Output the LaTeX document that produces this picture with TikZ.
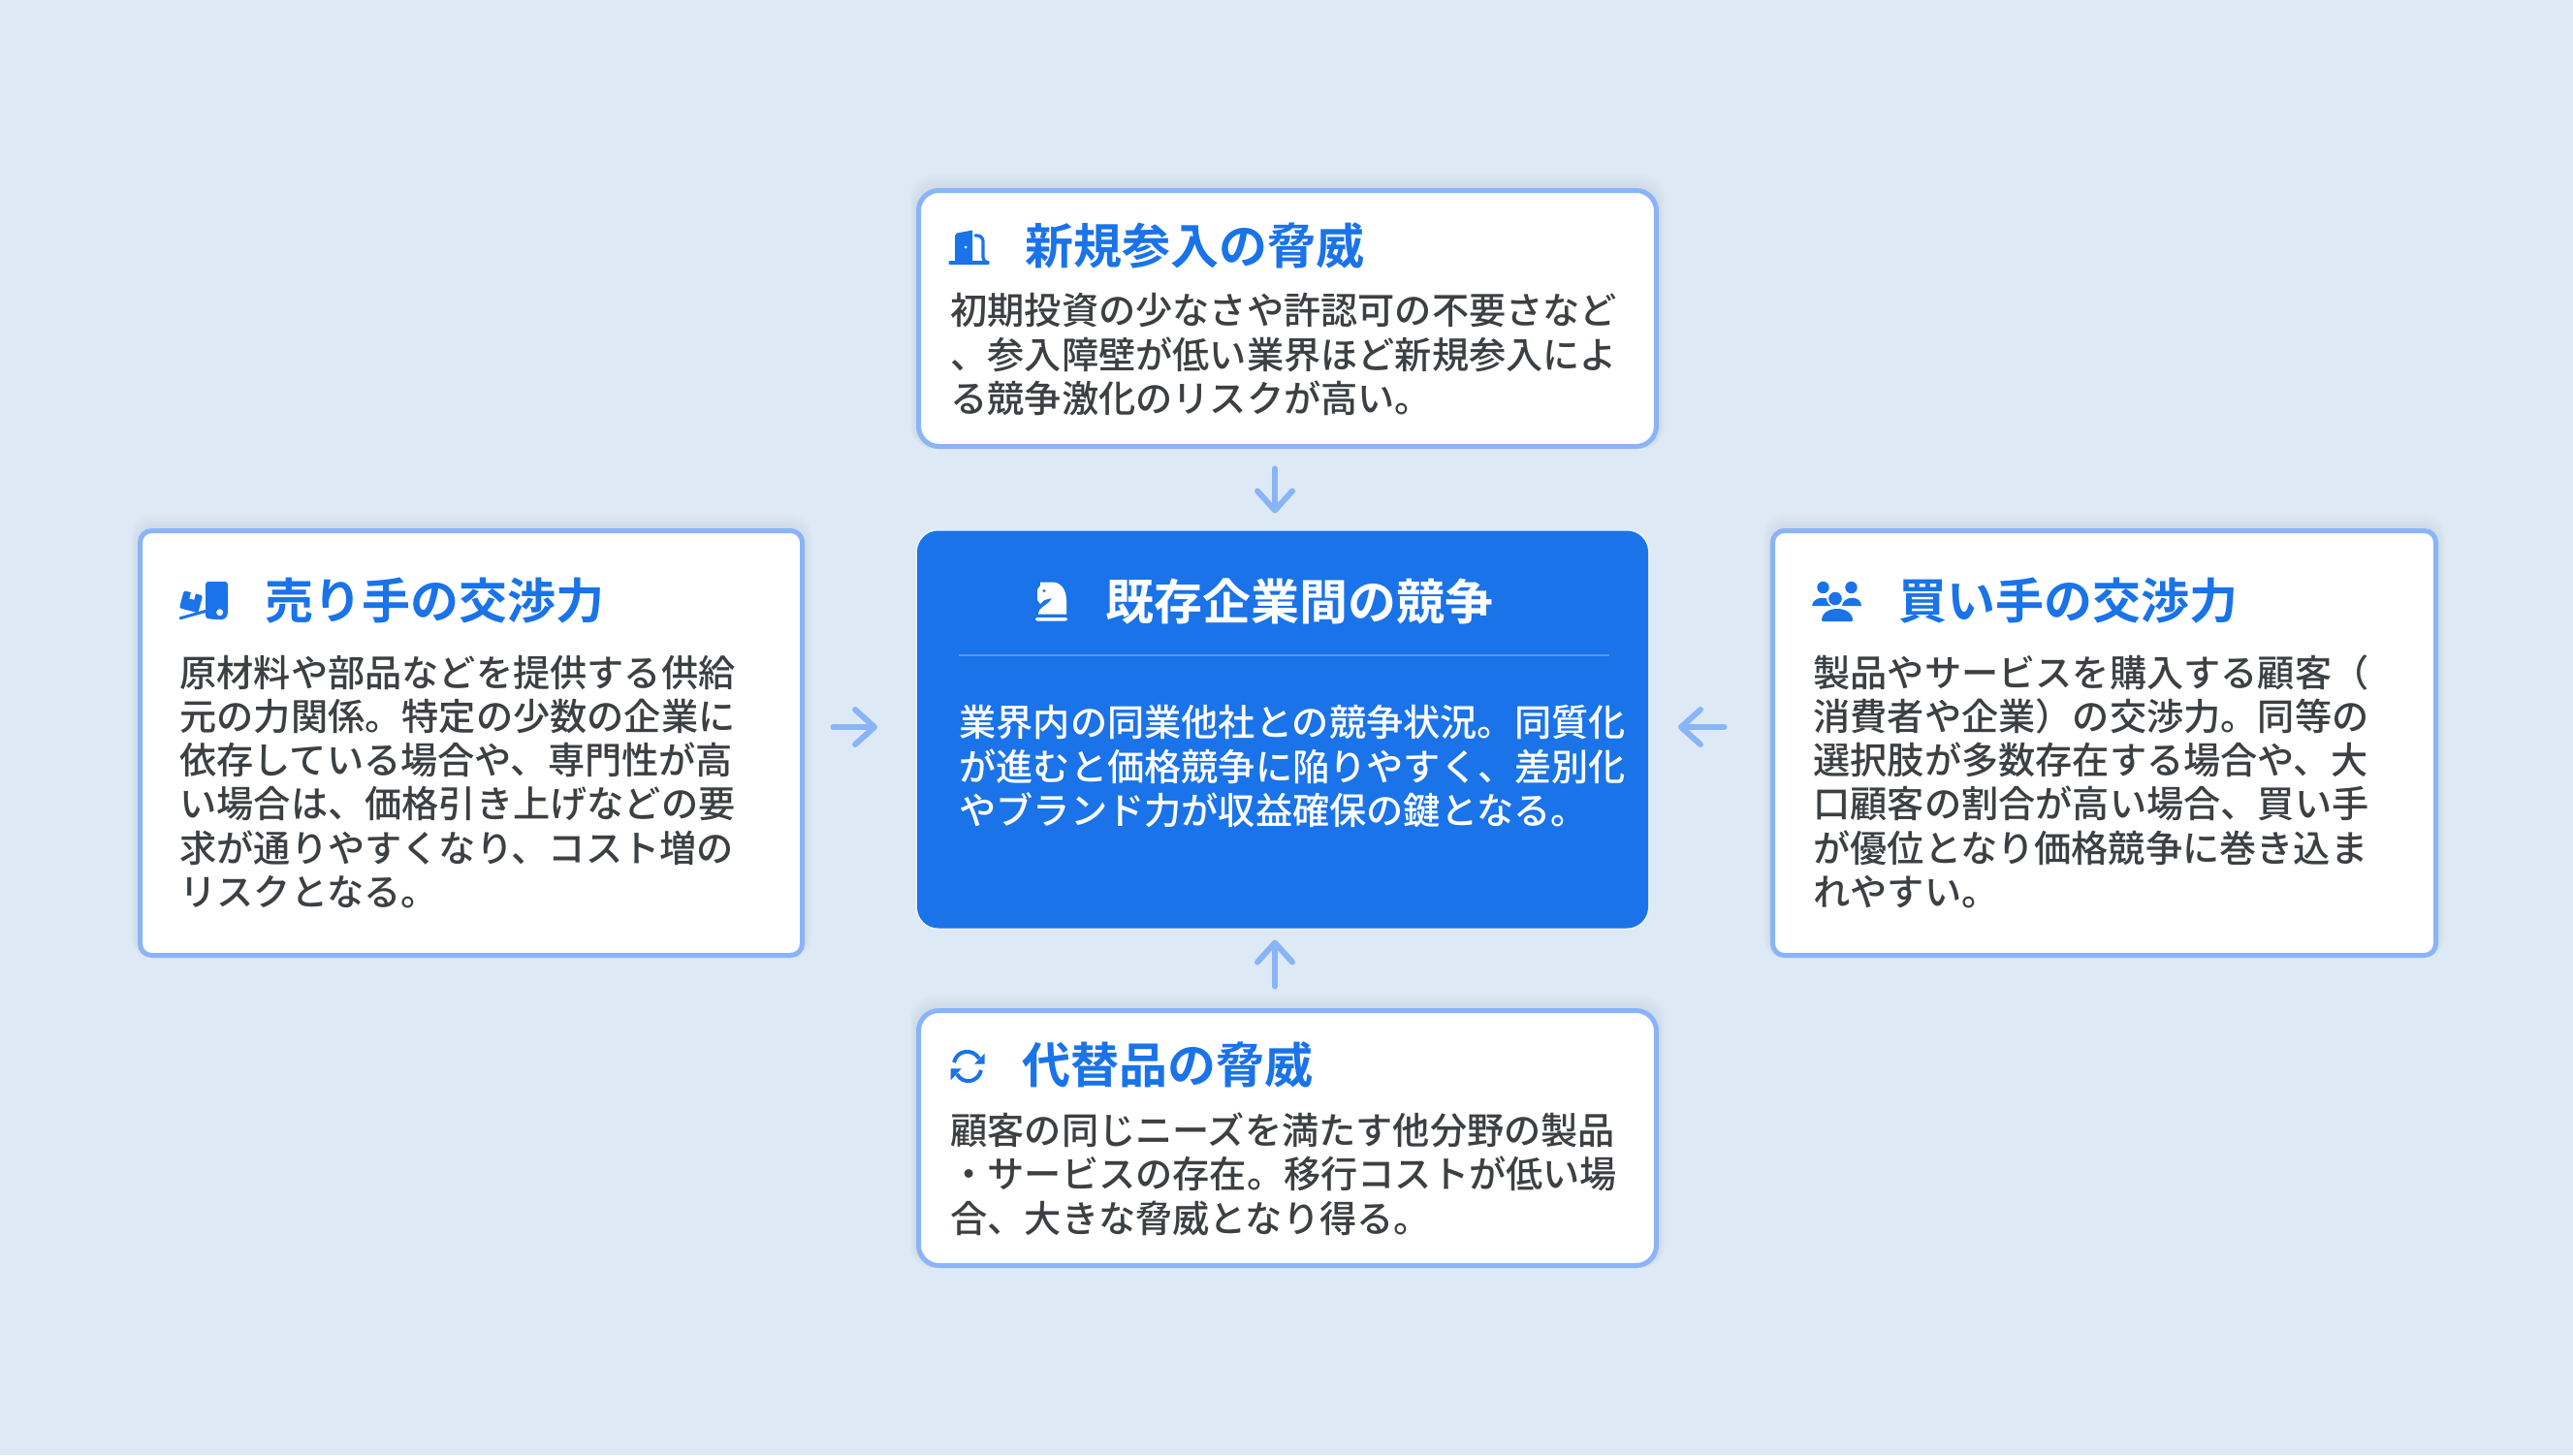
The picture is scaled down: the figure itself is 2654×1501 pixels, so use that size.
\documentclass[tikz,border=0pt]{standalone}
\usepackage{fontspec}
\setmainfont{Noto Sans CJK JP}[UprightFont=* Medium,BoldFont=* Bold]
\usetikzlibrary{arrows.meta,calc}
\definecolor{pagebg}{HTML}{DDEAF6}
\definecolor{edgeblue}{HTML}{8AB4F8}
\definecolor{coreblue}{HTML}{1A73E8}
\definecolor{bodygray}{HTML}{3C4043}
\definecolor{ruleblue}{HTML}{5A97EE}
\tikzset{
    panel/.style={
    rectangle,draw=edgeblue,fill=white,line width=2.5pt,outer sep=0pt,inner sep=0pt,rounded corners=10.5pt
    },
    sidepanel/.style={
    panel,rounded corners=6pt
    },
    corepanel/.style={
    rectangle,fill=coreblue,outer sep=0pt,inner sep=0pt,rounded corners=11pt
    },
    titletext/.style={
    anchor=west,inner sep=0pt,text=coreblue,font=\fontsize{25}{30}\selectfont\bfseries
    },
    bodytext/.style={
    anchor=base west,inner sep=0pt,align=left,text=bodygray,text height=17pt,
    font=\fontsize{19.1}{22.65}\selectfont
    },
    flow/.style={
    draw=edgeblue,line width=3pt,line cap=round,-{Straight Barb[round,length=10pt,width=18pt]}
    },
    glyph/.style={
    fill=coreblue,draw=none
    },
}

\begin{document}
\begin{tikzpicture}[x=0.5pt,y=-0.5pt]
  \fill[pagebg] (0,0) rectangle (2654,1501);
  \useasboundingbox (0,0) rectangle (2654,1501);

  % soft shadows
  \foreach \g in {1,...,7}{
    \fill[black,opacity=0.008,rounded corners=12pt] ($(945,194)+(-\g,-\g*2)$) rectangle ($(1711,463)+(\g,0)$);
    \fill[black,opacity=0.008,rounded corners=10pt] ($(142,545)+(-\g,-\g*2)$) rectangle ($(830,988)+(\g,0)$);
    \fill[black,opacity=0.008,rounded corners=10pt] ($(1826,545)+(-\g,-\g*2)$) rectangle ($(2515,988)+(\g,0)$);
    \fill[black,opacity=0.008,rounded corners=12pt] ($(945,1040)+(-\g,-\g*2)$) rectangle ($(1711,1308)+(\g,0)$);
  }
  \fill[white,opacity=0.35,rounded corners=12pt] (944,546) rectangle (1702,959);

  \node[panel,minimum width=380.5pt,minimum height=132pt] (entrant) at (1328,328.5) {};
  \node[sidepanel,minimum width=341.5pt,minimum height=219pt] (supplier) at (486,766.5) {};
  \node[corepanel,minimum width=377pt,minimum height=205pt] (rivalry) at (1323,752.5) {};
  \node[sidepanel,minimum width=342pt,minimum height=219pt] (buyer) at (2170.5,766.5) {};
  \node[panel,minimum width=380.5pt,minimum height=131.5pt] (substitute) at (1328,1174) {};

  \node[titletext] (entranttitle) at (1057,253) {新規参入の脅威};
  \node[titletext] (suppliertitle) at (273,620) {売り手の交渉力};
  \node[titletext,text=white] (rivalrytitle) at (1140,620) {既存企業間の競争};
  \node[titletext] (buyertitle) at (1958,620) {買い手の交渉力};
  \node[titletext] (substitutetitle) at (1054,1098) {代替品の脅威};

  \node[bodytext] (entrantbody) at (980,425.3) {初期投資の少なさや許認可の不要さなど\\、参入障壁が低い業界ほど新規参入によ\\る競争激化のリスクが高い。};
  \node[bodytext] (supplierbody) at (185,934.5) {原材料や部品などを提供する供給\\元の力関係。特定の少数の企業に\\依存している場合や、専門性が高\\い場合は、価格引き上げなどの要\\求が通りやすくなり、コスト増の\\リスクとなる。};
  \node[bodytext,text=white] (rivalrybody) at (989,850.5) {業界内の同業他社との競争状況。同質化\\が進むと価格競争に陥りやすく、差別化\\やブランド力が収益確保の鍵となる。};
  \node[bodytext] (buyerbody) at (1870,934.5) {製品やサービスを購入する顧客（\\消費者や企業）の交渉力。同等の\\選択肢が多数存在する場合や、大\\口顧客の割合が高い場合、買い手\\が優位となり価格競争に巻き込ま\\れやすい。};
  \node[bodytext] (substitutebody) at (980,1271) {顧客の同じニーズを満たす他分野の製品\\・サービスの存在。移行コストが低い場\\合、大きな脅威となり得る。};

  \draw[ruleblue,line width=1pt] (989,676) -- (1660,676);

  % arrows
  \coordinate (hub) at (1315,750);
  \draw[flow,shorten <=11.5pt,shorten >=9pt] (hub |- entrant.south) -- (hub |- rivalry.north);
  \draw[flow,shorten <=12.5pt,shorten >=6pt] (hub |- substitute.north) -- (hub |- rivalry.south);
  \draw[flow,shorten <=16pt,shorten >=20.5pt] (hub -| supplier.east) -- (hub -| rivalry.west);
  \draw[flow,shorten <=25pt,shorten >=15.5pt] (hub -| buyer.west) -- (hub -| rivalry.east);

  % door icon
  \fill[glyph] (985,270) -- (985,243) -- (987,240.5) -- (1003,237.5) -- (1003,270) -- cycle;
  \fill[white] (996,255) circle (1.5);
  \draw[coreblue,line width=1.6pt,line cap=round] (980,271) -- (1019,271);
  \draw[coreblue,line width=1.6pt,line cap=round,rounded corners=3pt] (1006,243) -- (1014,243) -- (1014,271) -- (1019,271);

  % truck and box icon
  \fill[glyph,rounded corners=1.5pt] (212,638) -- (212,600) -- (235,600) -- (235,634) -- (232,639) -- (222,639) -- cycle;
  \fill[coreblue] (226.7,631.7) circle (7);
  \fill[white] (226.7,631.7) circle (3.5);
  \draw[coreblue,line width=1.5pt,line cap=round] (186,637.7) -- (212,630.5);
  \fill[glyph,rotate around={-15:(197,621)},rounded corners=1pt] (187,611.5) rectangle (207,630);
  \fill[white,rotate around={-15:(197,621)}] (194.5,611) rectangle (199.5,618);

  % knight icon
  \fill[white,rounded corners=1pt] (1068,637) rectangle (1101,640.5);
  \fill[white] (1071,633.5) .. controls (1071,626) and (1082,624) .. (1085,617) -- (1077,619) -- (1073,623) -- (1070,619) -- (1070,608) -- (1073,604) -- (1073,600.5) -- (1086,600.5) .. controls (1095,601) and (1100,609) .. (1100,620) -- (1100,633.5) -- cycle;
  \fill[coreblue] (1077,609.5) circle (1.6);

  % people icon
  \fill[glyph] (1880.5,606) circle (6.2);
  \fill[glyph] (1909.5,606) circle (6.2);
  \fill[glyph] (1869,625) .. controls (1870,614) and (1890,614) .. (1890,625) -- cycle;
  \fill[glyph] (1900,625) .. controls (1901,614) and (1920,614) .. (1920,625) -- cycle;
  \fill[white] (1893,617) circle (9);
  \fill[white] (1877,641) .. controls (1877,620) and (1913,620) .. (1913,641) -- cycle;
  \fill[glyph] (1893,617.5) circle (6.8);
  \fill[glyph,rounded corners=0.5pt] (1879,641) .. controls (1879,624) and (1911,624) .. (1911,641) -- cycle;

  % sync icon
  \draw[coreblue,line width=2pt] (984,1096) .. controls (987,1083) and (1003,1081) .. (1010,1092);
  \draw[coreblue,line width=2pt] (1012,1104) .. controls (1009,1117) and (993,1119) .. (987,1108);
  \fill[glyph] (1015.7,1086.7) -- (1015.7,1097.7) -- (1005,1097.7) -- cycle;
  \fill[glyph] (980.7,1102.3) -- (991.7,1102.3) -- (980.7,1114.3) -- cycle;
\end{tikzpicture}
\end{document}
